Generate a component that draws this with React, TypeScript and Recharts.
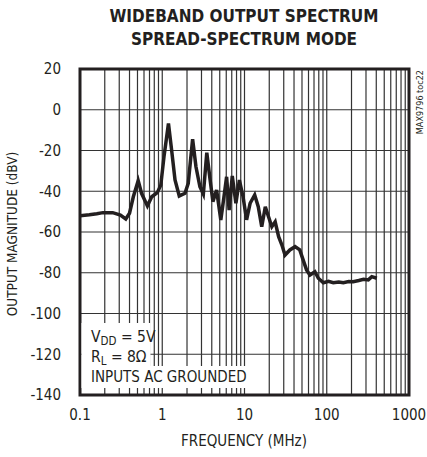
import React from "react";
import { LineChart, Line, XAxis, YAxis, CartesianGrid, ReferenceArea } from "recharts";

const freqMHz = [
  0.1, 0.13, 0.16, 0.19, 0.25, 0.31, 0.36, 0.4, 0.445, 0.51, 0.56, 0.66, 0.745, 0.87, 0.96, 1.05, 1.19, 1.3,
  1.43, 1.61, 1.89, 2.07, 2.34, 2.57, 2.87, 3.16, 3.48, 3.82, 4.13, 4.58, 5.15, 5.63, 6.06, 6.5, 7.1, 7.86,
  8.67, 9.6, 10.6, 11.7, 13.3, 14.7, 16.2, 17.9, 19.6, 21.5, 23.6, 26.0, 28.5, 31.1, 35.6, 41.2, 47.0, 51.6,
  56.8, 62.5, 71.8, 79.0, 91, 105, 120, 140, 159, 185, 210, 245, 280, 320, 353, 406,
];
const magnitudeDbv = [
  -52, -51.5, -51, -50.5, -50.5, -51.7, -53.6, -50.8, -42.7, -34.8, -41, -47.2, -42.7, -40.7, -37, -23, -6.7, -19.8,
  -34.5, -42.3, -41, -36.1, -14.5, -28, -37.8, -41.4, -21.1, -34.5, -45.1, -39.4, -54.1, -42.7, -32.9, -49.2, -32.5, -45.9,
  -34.5, -42.7, -54, -45.9, -41.8, -47.6, -57.4, -47.6, -52.5, -57.4, -55, -62.3, -66.4, -71.3, -68.8, -67.2, -68.8, -73.7,
  -78.6, -81.1, -79.5, -82.7, -84.9, -84.2, -84.9, -84.5, -84.9, -84.3, -84.4, -83.8, -83.2, -83.5, -81.9, -82.7,
];

const xTicks = [
  0.1, 0.2, 0.3, 0.4, 0.5, 0.6, 0.7, 0.8, 0.9,
  1, 2, 3, 4, 5, 6, 7, 8, 9,
  10, 20, 30, 40, 50, 60, 70, 80, 90,
  100, 200, 300, 400, 500, 600, 700, 800, 900, 1000,
];
const xLabels = [0.1, 1, 10, 100, 1000];
const yTicks = [-140, -120, -100, -80, -60, -40, -20, 0, 20];

const data = freqMHz.map((f, i) => ({ f, db: magnitudeDbv[i] }));

const FONT = "'Liberation Sans Narrow', 'DejaVu Sans Condensed', 'Liberation Sans', sans-serif";

export default function App() {
  return (
    <div style={{ position: "absolute", left: 0, top: 0, width: 427, height: 457, background: "#fff", fontFamily: FONT }}>
      <LineChart width={427} height={457} data={data} margin={{ top: 69, right: 18, bottom: 32, left: 40 }}>
        <CartesianGrid stroke="#333" strokeWidth={1.2} ticks={xTicks} />
        <XAxis
          dataKey="f"
          type="number"
          scale="log"
          domain={[0.1, 1000]}
          ticks={xTicks}
          interval={0}
          height={30}
          axisLine={false}
          tickLine={false}
          tickMargin={8}
          tick={{ fill: "#231f20", fontSize: 15, fontFamily: FONT }}
          tickFormatter={(v: number) => (xLabels.includes(v) ? String(v) : "")}
          allowDataOverflow
        />
        <YAxis
          type="number"
          domain={[-140, 20]}
          ticks={yTicks}
          width={40}
          axisLine={false}
          tickLine={false}
          tickMargin={13}
          tick={{ fill: "#231f20", fontSize: 15, fontFamily: FONT }}
        />
        <ReferenceArea x1={0.1} x2={1000} y1={-140} y2={20} fill="none" stroke="#231f20" strokeWidth={3} ifOverflow="visible" />
        <Line
          dataKey="db"
          type="linear"
          stroke="#231f20"
          strokeWidth={3.5}
          dot={false}
          isAnimationActive={false}
        />
      </LineChart>
      <svg width={427} height={457} style={{ position: "absolute", left: 0, top: 0 }}>
        <g fontFamily={FONT} fill="#231f20">
          <text x={244} y={22} textAnchor="middle" fontSize={17} fontWeight="bold">WIDEBAND OUTPUT SPECTRUM</text>
          <text x={244} y={45} textAnchor="middle" fontSize={17} fontWeight="bold">SPREAD-SPECTRUM MODE</text>
          <text x={244} y={446} textAnchor="middle" fontSize={15}>FREQUENCY (MHz)</text>
          <text transform="translate(17,234) rotate(-90)" textAnchor="middle" fontSize={13.5}>OUTPUT MAGNITUDE (dBV)</text>
          <text transform="translate(423,70) rotate(-90)" textAnchor="end" fontSize={9}>MAX9796 toc22</text>
          <rect x={81.5} y={323} width={69} height={23} fill="#fff" />
          <rect x={81.5} y={346} width={69} height={20} fill="#fff" />
          <rect x={81.5} y={366} width={166} height={22} fill="#fff" />
          <text x={91} y={342} fontSize={15.5}>
            V<tspan fontSize={11.5} dy={3}>DD</tspan><tspan dy={-3}> = 5V</tspan>
          </text>
          <text x={91} y={362} fontSize={15.5}>
            R<tspan fontSize={11.5} dy={3}>L</tspan><tspan dy={-3}> = 8Ω</tspan>
          </text>
          <text x={91} y={382} fontSize={15}>INPUTS AC GROUNDED</text>
        </g>
      </svg>
    </div>
  );
}
